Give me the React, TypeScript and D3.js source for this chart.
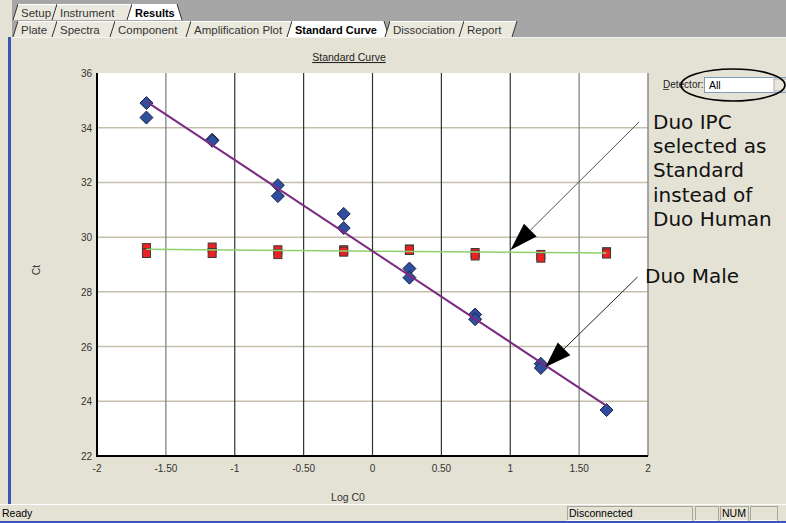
import React from "react";
import * as d3 from "d3";

// ---- data ----
const maleLogC0 = [-1.641, -1.641, -1.164, -1.164, -0.687, -0.687, -0.209, -0.209, 0.268, 0.268, 0.745, 0.745, 1.222, 1.222, 1.699];
const maleCt = [34.9, 34.37, 33.56, 33.52, 31.9, 31.5, 30.85, 30.33, 28.85, 28.52, 27.17, 27.0, 25.37, 25.22, 23.68];
const ipcLogC0 = [-1.641, -1.641, -1.164, -1.164, -0.687, -0.687, -0.209, -0.209, 0.268, 0.268, 0.745, 0.745, 1.222, 1.222, 1.699, 1.699];
const ipcCt = [29.6, 29.42, 29.62, 29.42, 29.52, 29.38, 29.52, 29.47, 29.55, 29.53, 29.42, 29.33, 29.35, 29.25, 29.45, 29.4];
const maleFit = { slope: -3.33, intercept: 29.49 };
const ipcFit = { slope: -0.04, intercept: 29.49 };
const xTicks = [-2, -1.5, -1, -0.5, 0, 0.5, 1, 1.5, 2];
const xTickLabels = ["-2", "-1.50", "-1", "-0.50", "0", "0.50", "1", "1.50", "2"];
const yTicks = [22, 24, 26, 28, 30, 32, 34, 36];
const topTabs = ["Setup", "Instrument", "Results"];
const subTabs = ["Plate", "Spectra", "Component", "Amplification Plot", "Standard Curve", "Dissociation", "Report"];
const noteLines = ["Duo IPC", "selected as", "Standard", "instead of", "Duo Human"];

// ---- layout ----
const W = 786, H = 523;
const topTabEdges = [13, 52, 127, 178];
const subTabEdges = [13, 52, 110, 186, 287, 385, 459, 512];
const BG = "#e4e2d4";
const UI_FONT = "'Liberation Sans', Arial, sans-serif";
const NOTE_FONT = "'DejaVu Sans', sans-serif";

export default function App() {
  const x = d3.scaleLinear().domain([-2, 2]).range([97, 648]);
  const y = d3.scaleLinear().domain([22, 36]).range([456, 73]);
  const [x0, x1] = d3.extent(maleLogC0) as [number, number];
  const [i0, i1] = d3.extent(ipcLogC0) as [number, number];
  const line = d3.line<[number, number]>().x((d) => x(d[0])).y((d) => y(d[1]));
  const malePath = line([[x0, maleFit.intercept + maleFit.slope * x0], [x1, maleFit.intercept + maleFit.slope * x1]]);
  const ipcPath = line([[i0, ipcFit.intercept + ipcFit.slope * i0], [i1, ipcFit.intercept + ipcFit.slope * i1]]);

  const tabRow = (labels: string[], edges: number[], top: number, bottom: number, selected: string, key: string) => (
    <g key={key}>
      {labels.map((lab, i) => {
        const a = edges[i], b = edges[i + 1];
        const sel = lab === selected;
        const pts = sel
          ? `${a},${bottom} ${a + 5},${top} ${b - 1},${top} ${b + 4},${bottom}`
          : `${a},${bottom} ${a + 5},${top} ${b + 5},${top} ${b},${bottom}`;
        return (
          <g key={lab}>
            <polygon points={pts} fill={sel ? "#ffffff" : "#ebe9dd"} stroke="none" />
            <line x1={a} y1={bottom} x2={a + 5} y2={top} stroke="#333" strokeWidth={1} />
            <line x1={a + 5} y1={top + 0.5} x2={sel ? b - 1 : b + 5} y2={top + 0.5} stroke="#fff" strokeWidth={1} />
            {sel && <line x1={b - 1} y1={top} x2={b + 4} y2={bottom} stroke="#333" strokeWidth={1} />}
            <text x={a + 8} y={bottom - 3} fontFamily={UI_FONT} fontSize={sel ? 11 : 11.5}
              fontWeight={sel ? "bold" : "normal"} fill={sel ? "#000" : "#333"}>{lab}</text>
          </g>
        );
      })}
    </g>
  );

  const arrow = (sx: number, sy: number, tx: number, ty: number, len: number, wid: number, col: string, k: string) => {
    const ang = Math.atan2(ty - sy, tx - sx);
    const bx = tx - len * Math.cos(ang), by = ty - len * Math.sin(ang);
    const px = -Math.sin(ang) * wid / 2, py = Math.cos(ang) * wid / 2;
    return (
      <g key={k}>
        <line x1={sx} y1={sy} x2={bx} y2={by} stroke={col} strokeWidth={1} />
        <polygon points={`${tx},${ty} ${bx + px},${by + py} ${bx - px},${by - py}`} fill="#000" />
      </g>
    );
  };

  return (
    <div style={{ position: "absolute", left: 0, top: 0, width: W, height: H }}>
      <svg width={W} height={H} style={{ display: "block" }}>
        <rect x={0} y={0} width={W} height={H} fill={BG} />
        {/* tab header */}
        <rect x={0} y={0} width={W} height={37} fill="#a6a6a6" />
        <rect x={0} y={0} width={12} height={37} fill={BG} />
        {tabRow(topTabs, topTabEdges, 4, 20, "Results", "t1")}
        {tabRow(subTabs, subTabEdges, 21, 37, "Standard Curve", "t2")}
        <line x1={subTabEdges[subTabEdges.length - 1]} y1={37} x2={subTabEdges[subTabEdges.length - 1] + 5} y2={21} stroke="#333" />
        <rect x={12} y={37} width={W - 12} height={1} fill="#fff" opacity={0.6} />
        {/* blue left stripe */}
        <rect x={8} y={37} width={3} height={467} fill="#3a56b0" />

        {/* title */}
        <text x={349} y={61} textAnchor="middle" fontFamily={UI_FONT} fontSize={10.5} fill="#222" textDecoration="underline">Standard Curve</text>

        {/* plot area */}
        <rect x={x(-2)} y={y(36)} width={x(2) - x(-2)} height={y(22) - y(36)} fill="#fff" />
        {yTicks.filter((t) => t > 22 && t < 36).map((t) => (
          <line key={"hy" + t} x1={x(-2)} x2={x(2)} y1={y(t)} y2={y(t)} stroke="#c5bfaa" strokeWidth={1.5} />
        ))}
        {xTicks.filter((t) => t > -2 && t < 2).map((t) => (
          <line key={"vx" + t} x1={x(t)} x2={x(t)} y1={y(36)} y2={y(22)}
            stroke={Math.abs(t) === 1.5 ? "#7a7a7a" : "#333"} strokeWidth={1.2} />
        ))}
        <line x1={x(2)} x2={x(2)} y1={y(36)} y2={y(22)} stroke="#8a8a8a" strokeWidth={1.5} />
        <line x1={x(-2)} x2={x(-2)} y1={y(36)} y2={y(22) + 1} stroke="#000" strokeWidth={2} />
        <line x1={x(-2) - 1} x2={x(2)} y1={y(22)} y2={y(22)} stroke="#000" strokeWidth={2} />

        {/* axis tick labels */}
        {yTicks.map((t) => (
          <text key={"yl" + t} x={92} y={y(t) + 4} textAnchor="end" fontFamily={UI_FONT} fontSize={10} fill="#333">{t}</text>
        ))}
        {xTicks.map((t, i) => (
          <text key={"xl" + t} x={x(t)} y={472} textAnchor="middle" fontFamily={UI_FONT} fontSize={10} fill="#333">{xTickLabels[i]}</text>
        ))}
        <text x={348} y={501} textAnchor="middle" fontFamily={UI_FONT} fontSize={10.5} fill="#333">Log C0</text>
        <text transform="translate(40,270) rotate(-90)" textAnchor="middle" fontFamily={UI_FONT} fontSize={10.5} fill="#333">Ct</text>

        {/* markers */}
        {maleLogC0.map((v, i) => {
          const cx = x(v), cy = y(maleCt[i]);
          return <polygon key={"m" + i} points={`${cx},${cy - 6.5} ${cx + 6.5},${cy} ${cx},${cy + 6.5} ${cx - 6.5},${cy}`}
            fill="#2f4e9e" stroke="#1a2448" strokeWidth={1} />;
        })}
        {ipcLogC0.map((v, i) => {
          const cx = x(v), cy = y(ipcCt[i]);
          return <rect key={"r" + i} x={cx - 4} y={cy - 4.5} width={8} height={9}
            fill="#ec2222" stroke="#3a3a3a" strokeWidth={1} />;
        })}
        {/* fit lines */}
        <path d={ipcPath || ""} stroke="#8fd06c" strokeWidth={1.5} fill="none" />
        <path d={malePath || ""} stroke="#7a2a80" strokeWidth={2} fill="none" />

        {/* annotations */}
        {arrow(639, 122, 510.5, 250, 28, 18, "#555", "a1")}
        {arrow(637.5, 277, 545.5, 367, 26, 18, "#222", "a2")}
        <text x={653} y={129} fontFamily={NOTE_FONT} fontSize={20} fill="#111">
          {noteLines.map((s, i) => (
            <tspan key={"n" + i} x={653} dy={i === 0 ? 0 : 24.2}>{s}</tspan>
          ))}
        </text>
        <text x={645} y={283} fontFamily={NOTE_FONT} fontSize={20} fill="#111">Duo Male</text>

        {/* detector selector */}
        <text x={663} y={88} fontFamily={UI_FONT} fontSize={10} fill="#222">Detector:</text>
        <line x1={663} x2={669} y1={89.5} y2={89.5} stroke="#222" strokeWidth={0.8} />
        <rect x={704.5} y={77.5} width={85} height={15} fill="#fff" stroke="#7f9db9" />
        <text x={709} y={89} fontFamily={UI_FONT} fontSize={10.5} fill="#000">All</text>
        <rect x={774} y={79} width={14} height={12} fill="#e8e6dc" stroke="#aaa" />
        <ellipse cx={733} cy={85} rx={52} ry={16} fill="none" stroke="#000" strokeWidth={1.6} />

        {/* status bar */}
        <line x1={0} x2={W} y1={504.5} y2={504.5} stroke="#fff" />
        <text x={2} y={517} fontFamily={UI_FONT} fontSize={10.5} fill="#000">Ready</text>
        {[[567, 692, "Disconnected"], [695, 718, ""], [720, 748, "NUM"], [750, 777, ""]].map(([a, b, s], i) => (
          <g key={"sb" + i}>
            <rect x={(a as number) + 0.5} y={506.5} width={(b as number) - (a as number)} height={14} fill="none" stroke="#a9a79a" />
            <line x1={a as number} x2={b as number} y1={520.5} y2={520.5} stroke="#fff" />
            {s && <text x={(a as number) + 2} y={517} fontFamily={UI_FONT} fontSize={10.5} fill="#000">{s as string}</text>}
          </g>
        ))}
        <rect x={0} y={521} width={W} height={2} fill="#3a56b0" />
      </svg>
    </div>
  );
}
